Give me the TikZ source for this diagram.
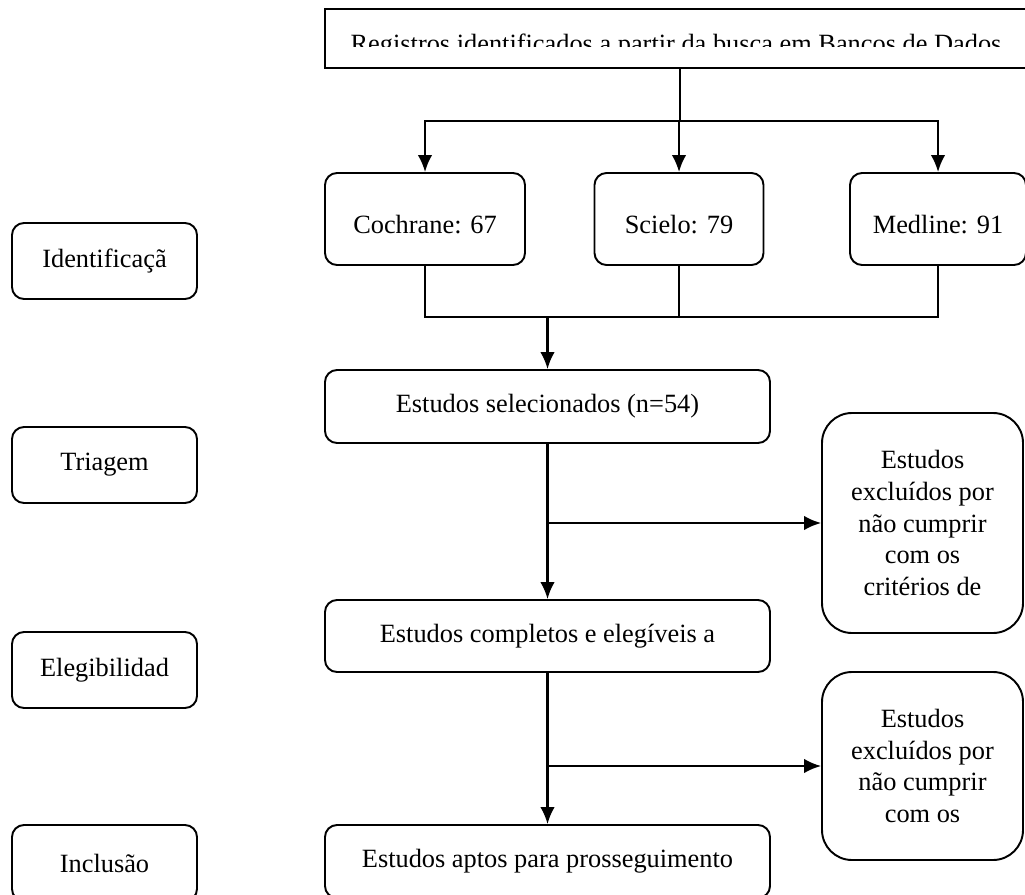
\documentclass[tikz,border=0pt]{standalone}
\usepackage{fontspec}
\setmainfont{Liberation Serif}
\usepackage{xcolor}
\usepackage{tikz}
\usetikzlibrary{calc}
\usetikzlibrary{shapes}
\usetikzlibrary{arrows.meta}

\tikzset{
	caixa/.style={draw=black!100, line width=1.1pt, rounded corners=2.4mm, align=center, inner sep=0pt, font=\fontsize{15}{18}\selectfont},
	caixagrande/.style={caixa, rounded corners=6mm, minimum width=40.2mm},
	banco/.style={caixa, minimum height=18.4mm, text height=6mm, text depth=0pt},
	fase/.style={caixa, minimum width=37mm, minimum height=15.2mm},
	liga/.style={line width=1.2pt},
}

\begin{document}
\begin{tikzpicture}[x=0.2mm, y=-0.2mm, >={Latex[length=3.4mm,width=2.9mm]}]
		\clip (0,0) rectangle (1025,895);

		% Fases
		\node at (104.5,261) (id) [fase] {Identificaçã};
		\node at (104.5,465) (tri) [fase] {Triagem};
		\node at (104.5,670) (ele) [fase] {Elegibilidad};
		\node at (104.5,863) (inc) [fase] {Inclusão};

		% Busca
		\node at (680,38.5) (reg) [draw=black!100, line width=1.1pt, minimum width=142mm, minimum height=11.8mm] {};
		\begin{scope}
			\clip (325,9) rectangle (1025,47);
			\node [anchor=base, font=\fontsize{15}{18}\selectfont] at (676,52.5) (regtxt) {Registros identificados a partir da busca em Bancos de Dados};
		\end{scope}

		% Bancos de dados
		\node at (425,219) (coch) [banco, minimum width=40mm] {Cochrane: 67};
		\node at (679,219) (sci) [banco, minimum width=33.8mm] {Scielo: 79};
		\node at (938,219) (med) [banco, minimum width=35.2mm] {Medline: 91};

		\coordinate (hub1) at ($(reg.south) + (0,52)$);
		\draw[liga] (reg.south) -- (hub1);
		\draw[liga,->] (hub1) -| (coch.north);
		\draw[liga,->] (hub1) -| (med.north);
		\draw[liga,->] (sci.north |- hub1) -- (sci.north);

		% Triagem
		\node at (547.5,406.5) (sel) [caixa, minimum width=89mm, minimum height=14.6mm] {Estudos selecionados (n=54)};
		\coordinate (hub2) at ($(sel.north) + (0,-52)$);
		\draw[liga] (coch.south) |- (hub2) -| (med.south);
		\draw[line width=0.8pt] (sci.south) -- (sci.south |- hub2);
		\draw[liga,->] (hub2) -- (sel.north);

		\node at (922.5,523) (exc1) [caixagrande, minimum height=44mm] {Estudos\\excluídos por\\não cumprir\\com os\\critérios de};

		% Elegibilidade
		\node at (547.5,636) (eleg) [caixa, minimum width=89mm, minimum height=14.4mm] {Estudos completos e elegíveis a};
		\draw[liga,->] (sel.south) -- (eleg.north);
		\coordinate (b1) at (sel.south |- exc1.west);
		\draw[liga,->] (b1) -- (exc1.west);

		\node at (922.5,766) (exc2) [caixagrande, minimum height=37.6mm] {Estudos\\excluídos por\\não cumprir\\com os};

		% Inclusão
		\node at (547.5,861.5) (apt) [caixa, minimum width=89mm, minimum height=14.6mm] {Estudos aptos para prosseguimento};
		\draw[liga,->] (eleg.south) -- (apt.north);
		\coordinate (b2) at (eleg.south |- exc2.west);
		\draw[liga,->] (b2) -- (exc2.west);
	\end{tikzpicture}
\end{document}
